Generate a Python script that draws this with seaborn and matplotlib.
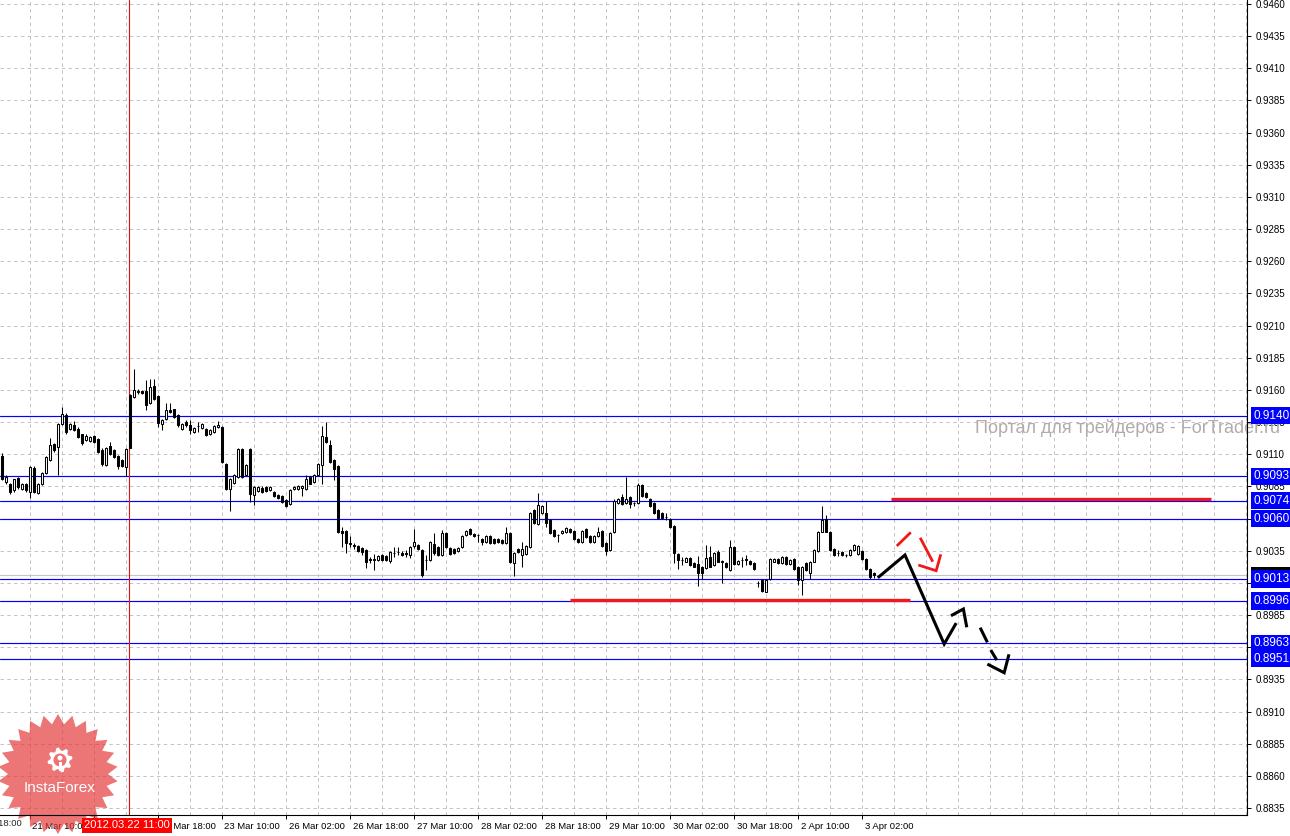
import numpy as np
import pandas as pd

import matplotlib
matplotlib.use('Agg')

import matplotlib.pyplot as plt
import matplotlib.patches as mpatches
import matplotlib.transforms as mtransforms
import seaborn as sns


# =========================================================
# DATA  (H1 candles, one bar every hour)
# =========================================================

opens = [
    0.91087, 0.90885, 0.90872, 0.9082, 0.90918, 0.90833, 0.90867, 0.90807, 0.90996, 0.90802,
    0.90872, 0.90955, 0.91058, 0.91177, 0.91157, 0.91338, 0.91403, 0.91299, 0.9133, 0.91299,
    0.91255, 0.91208, 0.91203, 0.9124, 0.91216, 0.91136, 0.91014, 0.91162, 0.9113, 0.91087,
    0.91053, 0.91001, 0.91558, 0.91545, 0.91584, 0.91589, 0.91592, 0.91498, 0.91628, 0.9155,
    0.91338, 0.91377, 0.91442, 0.91449, 0.91403, 0.91294, 0.91351, 0.9133, 0.91273, 0.91322,
    0.91307, 0.91299, 0.9126, 0.91273, 0.91312, 0.91312, 0.91027, 0.90833, 0.90877, 0.90924,
    0.91144, 0.90936, 0.91144, 0.90781, 0.90815, 0.90841, 0.90846, 0.9082, 0.90807, 0.90786,
    0.90773, 0.90742, 0.90711, 0.9083, 0.9083, 0.90841, 0.90833, 0.90924, 0.90885, 0.90936,
    0.91014, 0.91234, 0.9117, 0.91058, 0.91006, 0.90503, 0.90503, 0.90408, 0.90395, 0.90387,
    0.90369, 0.90356, 0.90285, 0.90277, 0.90278, 0.90317, 0.90309, 0.90273, 0.90333, 0.90342,
    0.90335, 0.9033, 0.90317, 0.90387, 0.90395, 0.90356, 0.90278, 0.90278, 0.90402, 0.90376,
    0.90317, 0.9049, 0.90369, 0.90361, 0.90351, 0.90376, 0.9047, 0.90516, 0.9048, 0.90473,
    0.90439, 0.9042, 0.90464, 0.90439, 0.90439, 0.90433, 0.90408, 0.9049, 0.90252, 0.90361,
    0.90317, 0.90325, 0.90376, 0.90667, 0.90558, 0.90641, 0.90646, 0.90589, 0.90511, 0.90473,
    0.9049, 0.90498, 0.90516, 0.90506, 0.90439, 0.9042, 0.90516, 0.90464, 0.9042, 0.90464,
    0.90506, 0.90408, 0.90356, 0.90494, 0.90719, 0.90766, 0.90719, 0.90766, 0.9072, 0.90719,
    0.90861, 0.90802, 0.9075, 0.90719, 0.90667, 0.90641, 0.90611, 0.90595, 0.90543, 0.90325,
    0.90281, 0.90266, 0.90292, 0.90258, 0.90248, 0.90222, 0.90214, 0.90299, 0.9024, 0.90343,
    0.90267, 0.90258, 0.90201, 0.90377, 0.90248, 0.90279, 0.90284, 0.90274, 0.90253, 0.90103,
    0.90123, 0.90033, 0.90128, 0.90266, 0.90284, 0.90253, 0.90299, 0.90248, 0.90284, 0.90222,
    0.90123, 0.90253, 0.9018, 0.90266, 0.90351, 0.90499, 0.90595, 0.90499, 0.90362, 0.90331,
    0.90343, 0.90318, 0.90318, 0.90356, 0.90325, 0.90349, 0.90284, 0.90206, 0.90175,
]

highs = [
    0.9111, 0.90936, 0.9088, 0.9091, 0.90925, 0.9088, 0.9088, 0.9101, 0.9101, 0.90875,
    0.90965, 0.91085, 0.91229, 0.91185, 0.91345, 0.91467, 0.9142, 0.91345, 0.9136, 0.9131,
    0.9126, 0.91255, 0.91245, 0.91253, 0.91225, 0.91145, 0.9116, 0.91195, 0.9114, 0.91095,
    0.91063, 0.9115, 0.9157, 0.9176, 0.91605, 0.916, 0.91675, 0.91688, 0.91688, 0.9156,
    0.91375, 0.91501, 0.91501, 0.91455, 0.91415, 0.91345, 0.9137, 0.91369, 0.91315, 0.91351,
    0.91345, 0.91307, 0.91298, 0.91327, 0.91355, 0.9132, 0.91035, 0.90918, 0.90945, 0.9115,
    0.9115, 0.91026, 0.9115, 0.90853, 0.90855, 0.9085, 0.90855, 0.90853, 0.90815, 0.90793,
    0.9078, 0.9075, 0.90827, 0.90853, 0.90858, 0.90858, 0.90942, 0.9093, 0.90943, 0.9103,
    0.91317, 0.91351, 0.91208, 0.91065, 0.91015, 0.90537, 0.9051, 0.90464, 0.90408, 0.90395,
    0.90376, 0.90363, 0.90299, 0.90325, 0.90316, 0.90324, 0.90316, 0.9035, 0.90376, 0.90376,
    0.90345, 0.90356, 0.9039, 0.90516, 0.90403, 0.90363, 0.90317, 0.90428, 0.9049, 0.90384,
    0.90511, 0.90498, 0.90382, 0.90368, 0.90376, 0.90471, 0.90513, 0.90523, 0.90487, 0.9048,
    0.90446, 0.90471, 0.90471, 0.90446, 0.90446, 0.9044, 0.90537, 0.90498, 0.90337, 0.90368,
    0.9042, 0.90394, 0.90653, 0.90674, 0.90801, 0.90705, 0.90739, 0.90596, 0.90518, 0.9048,
    0.90513, 0.90531, 0.90523, 0.90513, 0.90446, 0.90513, 0.90523, 0.90471, 0.90471, 0.90537,
    0.90513, 0.90415, 0.90497, 0.9075, 0.90757, 0.90792, 0.90921, 0.90773, 0.90732, 0.9088,
    0.90868, 0.90809, 0.90757, 0.90726, 0.90674, 0.90648, 0.90641, 0.90602, 0.9055, 0.90332,
    0.90299, 0.90299, 0.90299, 0.90265, 0.9031, 0.90229, 0.90395, 0.90387, 0.90343, 0.90356,
    0.90279, 0.90265, 0.90434, 0.90384, 0.90281, 0.90305, 0.90318, 0.90281, 0.9026, 0.90118,
    0.9013, 0.9013, 0.90291, 0.90291, 0.90291, 0.90306, 0.90306, 0.90286, 0.90291, 0.90229,
    0.90234, 0.9026, 0.90273, 0.90363, 0.90506, 0.90698, 0.90628, 0.90506, 0.90369, 0.90356,
    0.9035, 0.90325, 0.90363, 0.90402, 0.90394, 0.90356, 0.90291, 0.90213, 0.90182,
]

lows = [
    0.909, 0.90867, 0.90794, 0.9081, 0.9083, 0.9082, 0.9081, 0.9076, 0.908, 0.90795,
    0.9086, 0.9095, 0.9105, 0.9112, 0.90936, 0.9133, 0.9126, 0.9129, 0.9128, 0.91225,
    0.91175, 0.912, 0.91195, 0.91188, 0.9111, 0.9101, 0.91005, 0.91095, 0.9107, 0.90983,
    0.91, 0.90929, 0.91145, 0.9154, 0.9157, 0.9157, 0.91447, 0.9149, 0.91525, 0.91312,
    0.91286, 0.9137, 0.9142, 0.9138, 0.91315, 0.91285, 0.91315, 0.9126, 0.91265, 0.91273,
    0.913, 0.91239, 0.9125, 0.91265, 0.91305, 0.9103, 0.90825, 0.90659, 0.9087, 0.90915,
    0.90915, 0.9093, 0.90729, 0.90709, 0.9081, 0.908, 0.90808, 0.90815, 0.90766, 0.90756,
    0.9072, 0.9069, 0.90704, 0.90824, 0.90824, 0.90773, 0.90826, 0.90865, 0.9088, 0.9093,
    0.90867, 0.91188, 0.9103, 0.909, 0.9049, 0.90382, 0.9033, 0.90376, 0.90361, 0.90343,
    0.90317, 0.90213, 0.90252, 0.902, 0.9027, 0.9027, 0.9027, 0.90252, 0.90304, 0.90317,
    0.9031, 0.90299, 0.90291, 0.90369, 0.90354, 0.90149, 0.902, 0.9027, 0.90317, 0.9031,
    0.9031, 0.90369, 0.90317, 0.90328, 0.90344, 0.90369, 0.90463, 0.90473, 0.90457, 0.9042,
    0.90395, 0.90413, 0.904, 0.904, 0.90413, 0.904, 0.904, 0.90258, 0.90154, 0.90336,
    0.90226, 0.90318, 0.90369, 0.90556, 0.90551, 0.90634, 0.90537, 0.90478, 0.90457, 0.9042,
    0.90483, 0.90491, 0.90491, 0.90432, 0.90413, 0.90413, 0.90447, 0.90413, 0.90413, 0.90457,
    0.9038, 0.90317, 0.90349, 0.90487, 0.90712, 0.90707, 0.90712, 0.9068, 0.90698, 0.90712,
    0.90769, 0.90759, 0.90691, 0.90639, 0.90595, 0.90595, 0.9059, 0.90526, 0.90253, 0.90206,
    0.9024, 0.90259, 0.90233, 0.9022, 0.90077, 0.90128, 0.90207, 0.9022, 0.90233, 0.90259,
    0.90097, 0.90215, 0.90194, 0.90241, 0.90241, 0.90227, 0.9024, 0.90241, 0.90199, 0.90071,
    0.90033, 0.90026, 0.90121, 0.90259, 0.90246, 0.90246, 0.90241, 0.90241, 0.90199, 0.90084,
    0.90007, 0.90194, 0.90128, 0.90259, 0.90344, 0.90492, 0.90492, 0.90349, 0.90311, 0.9031,
    0.90311, 0.90299, 0.90311, 0.90349, 0.90318, 0.90277, 0.90199, 0.90128, 0.90142,
]

closes = [
    0.90911, 0.90924, 0.90807, 0.90905, 0.90846, 0.90872, 0.9082, 0.91001, 0.90807, 0.90867,
    0.90955, 0.91079, 0.9117, 0.91136, 0.91338, 0.91416, 0.91273, 0.91338, 0.91286, 0.91234,
    0.91188, 0.9124, 0.91234, 0.91195, 0.91118, 0.91022, 0.91151, 0.91105, 0.91079, 0.91006,
    0.91006, 0.91144, 0.91151, 0.91602, 0.91589, 0.91579, 0.9148, 0.91623, 0.91532, 0.91343,
    0.91369, 0.91442, 0.91429, 0.9139, 0.91325, 0.91333, 0.91325, 0.91286, 0.91304, 0.91318,
    0.91338, 0.91247, 0.91291, 0.9132, 0.91325, 0.9104, 0.90833, 0.90911, 0.90936, 0.91144,
    0.90924, 0.91019, 0.90794, 0.90846, 0.90846, 0.90807, 0.90815, 0.90846, 0.90773, 0.90763,
    0.90729, 0.90698, 0.9082, 0.90846, 0.90851, 0.90851, 0.90911, 0.90872, 0.90936, 0.91022,
    0.91239, 0.91195, 0.9104, 0.90988, 0.90498, 0.9049, 0.90413, 0.90405, 0.90387, 0.90351,
    0.90343, 0.90265, 0.90282, 0.90285, 0.90309, 0.90278, 0.90278, 0.90343, 0.90335, 0.90343,
    0.90317, 0.90328, 0.90382, 0.9042, 0.90361, 0.90161, 0.90275, 0.9042, 0.9033, 0.90317,
    0.9049, 0.90376, 0.90325, 0.90335, 0.90369, 0.90464, 0.90506, 0.9048, 0.90464, 0.90471,
    0.9042, 0.90464, 0.90408, 0.90408, 0.9042, 0.90408, 0.9049, 0.90265, 0.9033, 0.90343,
    0.90361, 0.90387, 0.90646, 0.90563, 0.90705, 0.90698, 0.90568, 0.90485, 0.90464, 0.90472,
    0.90506, 0.90524, 0.90498, 0.90439, 0.9042, 0.90506, 0.90454, 0.9042, 0.90464, 0.90498,
    0.90387, 0.90351, 0.9049, 0.9074, 0.9075, 0.90714, 0.9075, 0.90714, 0.90718, 0.90861,
    0.90776, 0.90766, 0.90698, 0.90646, 0.90602, 0.90602, 0.90609, 0.90533, 0.9033, 0.90279,
    0.90279, 0.90292, 0.9024, 0.90227, 0.90175, 0.90175, 0.90292, 0.90227, 0.90336, 0.90266,
    0.90265, 0.90222, 0.90382, 0.90248, 0.90274, 0.90277, 0.90282, 0.90248, 0.90206, 0.90101,
    0.9004, 0.90123, 0.90284, 0.90284, 0.90253, 0.90299, 0.90248, 0.90279, 0.90206, 0.90123,
    0.90227, 0.90201, 0.90266, 0.90356, 0.90499, 0.90589, 0.90499, 0.90356, 0.90318, 0.9033,
    0.90318, 0.90317, 0.90356, 0.90395, 0.90387, 0.90284, 0.90206, 0.90149, 0.9016,
]

# time axis: one label every 16 bars
time_tick_bars = [-9, 7, 23, 39, 55, 71, 87, 103, 119, 135, 151, 167, 183, 199, 215]
time_tick_labels = [
    "20 Mar 18:00", "21 Mar 10:00", "22 Mar 02:00", "22 Mar 18:00",
    "23 Mar 10:00", "26 Mar 02:00", "26 Mar 18:00", "27 Mar 10:00",
    "28 Mar 02:00", "28 Mar 18:00", "29 Mar 10:00", "30 Mar 02:00",
    "30 Mar 18:00", "2 Apr 10:00", "3 Apr 02:00",
]

price_ticks = [
    0.8835, 0.8860, 0.8885, 0.8910, 0.8935, 0.8960, 0.8985, 0.9010,
    0.9035, 0.9060, 0.9085, 0.9110, 0.9135, 0.9160, 0.9185, 0.9210,
    0.9235, 0.9260, 0.9285, 0.9310, 0.9335, 0.9360, 0.9385, 0.9410,
    0.9435, 0.9460,
]

# support / resistance levels
levels = [0.9140, 0.9093, 0.9074, 0.9060, 0.9013, 0.8996, 0.8963, 0.8951]
bid_price = 0.9016

# crosshair
cross_bar = 31.8
cross_label = "2012.03.22 11:00"

# red zones (bar_start, bar_end, price)
red_upper = (222.3, 302.3, 0.9075)
red_lower = (142.1, 227.1, 0.8997)

# forecast sketch (bar, price)
black_path = [(219.0, 0.90140), (225.8, 0.90317), (235.6, 0.89625), (238.6, 0.89788)]
black_head_up = [(237.3, 0.89845), (240.4, 0.89897), (241.25, 0.89755)]
black_dash_1 = [(244.6, 0.89752), (246.4, 0.89638)]
black_dash_2 = [(247.25, 0.89578), (248.75, 0.89500)]
black_head_down = [(246.4, 0.89469), (250.6, 0.89402), (251.8, 0.89545)]

red_dash_up = [(223.75, 0.90387), (227.25, 0.90493)]
red_down = [(229.6, 0.90451), (232.75, 0.90265)]
red_head_down = [(229.15, 0.90239), (233.6, 0.90195), (234.75, 0.90322)]

watermark = "Портал для трейдеров - ForTrader.ru"
logo_text = "InstaForex"


# =========================================================
# FRAME
# =========================================================

df = pd.DataFrame({
    'open': opens,
    'high': highs,
    'low': lows,
    'close': closes,
})
df['bar'] = np.arange(len(df))

sns.set_theme(style="white")
plt.rcParams['font.family'] = ['Liberation Sans', 'DejaVu Sans']

W, H = 1290, 836
fig = plt.figure(figsize=(W / 100, H / 100), dpi=100)
fig.patch.set_facecolor('white')

# plot area in pixels: x 0..1247, y 0..815
ax = fig.add_axes([0, 21 / H, 1247 / W, 815 / H])
ax.set_facecolor('white')

ax.set_xlim(-0.425, 311.3)
ax.set_ylim(0.88296, 0.94631)


def px(x, y):
    # pixel (top-left origin) -> figure fraction
    return (x / W, 1 - y / H)


# =========================================================
# GRID
# =========================================================

grid_col = '#c6bec8'

for p in price_ticks:
    ax.axhline(p, color=grid_col, lw=0.7, ls=(0, (3.5, 3.5)), zorder=0.5)

for b in range(7, 312, 8):
    ax.axvline(b, color=grid_col, lw=0.7, ls=(0, (3.5, 3.5)), zorder=0.5)


# =========================================================
# WATERMARKS
# =========================================================

ax.text(
    975 / 1247, 1 - 428 / 815,
    watermark,
    transform=ax.transAxes,
    fontsize=13,
    color='#b3abab',
    ha='left', va='center',
    zorder=1, clip_on=False
)

# InstaForex starburst
n_spikes = 26
ang = np.linspace(0, 2 * np.pi, 2 * n_spikes, endpoint=False) + np.pi / 2
rad = np.where(np.arange(2 * n_spikes) % 2 == 0, 60, 50)
star = [px(58 + r * np.cos(a), 774 - r * np.sin(a)) for r, a in zip(rad, ang)]
ax.add_patch(mpatches.Polygon(
    star, closed=True, transform=fig.transFigure,
    facecolor='#e43a3a', edgecolor='none', alpha=0.7,
    zorder=1, clip_on=False
))

# gear icon
n_teeth = 8
g_ang = np.linspace(0, 2 * np.pi, 4 * n_teeth, endpoint=False)
g_rad = np.array([12.5, 12.5, 9.5, 9.5] * n_teeth)
gear = [px(60 + r * np.cos(a + 0.1), 760 - r * np.sin(a + 0.1)) for r, a in zip(g_rad, g_ang)]
ax.add_patch(mpatches.Polygon(
    gear, closed=True, transform=fig.transFigure,
    facecolor='white', edgecolor='none', zorder=1.2, clip_on=False
))
ax.add_patch(mpatches.Ellipse(
    px(60, 760), 13 / W, 13 / H, transform=fig.transFigure,
    facecolor='#ee7272', edgecolor='none', zorder=1.3, clip_on=False
))
ax.add_patch(mpatches.Rectangle(
    px(58.5, 771), 3 / W, 9 / H, transform=fig.transFigure,
    facecolor='white', edgecolor='none', zorder=1.4, clip_on=False
))
ax.add_patch(mpatches.Ellipse(
    px(60, 758), 5 / W, 5 / H, transform=fig.transFigure,
    facecolor='white', edgecolor='none', zorder=1.4, clip_on=False
))

ax.text(
    *px(60, 788), logo_text,
    transform=fig.transFigure,
    fontsize=11, color='white',
    ha='center', va='center',
    zorder=1.5, clip_on=False
)


# =========================================================
# LEVEL LINES
# =========================================================

for lv in levels:
    ax.axhline(lv, color='#0000ff', lw=0.85, zorder=2)

ax.axhline(bid_price, color='#c4c4c4', lw=0.8, zorder=1.8)

ax.axvline(cross_bar, color='#e01010', lw=0.8, zorder=2.2)

for b0, b1, p in (red_upper, red_lower):
    ax.hlines(p, b0, b1, color='#ee1a1a', lw=2.4, zorder=3)


# =========================================================
# CANDLES
# =========================================================

up = df['close'] >= df['open']
body_lo = np.minimum(df['open'], df['close'])
body_h = np.maximum((df['close'] - df['open']).abs(), 0.000015)

ax.vlines(df['bar'], df['low'], df['high'], color='black', lw=0.75, zorder=3)

ax.bar(
    df['bar'][up], body_h[up], bottom=body_lo[up],
    width=0.55, color='white', edgecolor='black', linewidth=0.75, zorder=4
)
ax.bar(
    df['bar'][~up], body_h[~up], bottom=body_lo[~up],
    width=0.55, color='black', edgecolor='black', linewidth=0.75, zorder=4
)


# =========================================================
# FORECAST SKETCH
# =========================================================

def draw_path(pts, color, lw):
    xs, ys = zip(*pts)
    ax.plot(xs, ys, color=color, lw=lw, solid_capstyle='butt',
            solid_joinstyle='miter', zorder=5)


for pts in (black_path, black_head_up, black_dash_1, black_dash_2, black_head_down):
    draw_path(pts, 'black', 2.2)

for pts in (red_dash_up, red_down, red_head_down):
    draw_path(pts, '#ee1a1a', 2.0)


# =========================================================
# AXES / TICKS
# =========================================================

for s in ['left', 'top']:
    ax.spines[s].set_visible(False)
for s in ['right', 'bottom']:
    ax.spines[s].set_visible(True)
    ax.spines[s].set_color('black')
    ax.spines[s].set_linewidth(0.8)

ax.yaxis.tick_right()
ax.set_yticks(price_ticks)
ax.set_yticklabels([f"{p:.4f}" for p in price_ticks])
ax.tick_params(axis='y', which='major', right=True, length=3, width=0.7,
               color='black', labelsize=7, pad=3, labelcolor='black')

vis = [(b, l) for b, l in zip(time_tick_bars, time_tick_labels) if b >= 0]
ax.set_xticks([b for b, _ in vis])
ax.set_xticklabels([l for _, l in vis])
ax.tick_params(axis='x', which='major', bottom=True, length=3, width=0.7,
               color='black', labelsize=6.8, pad=2, labelcolor='black')

shift = mtransforms.ScaledTranslation(2 / 72, 0, fig.dpi_scale_trans)
for lab in ax.get_xticklabels():
    lab.set_horizontalalignment('left')
    lab.set_transform(lab.get_transform() + shift)

# label of the tick that sits left of the view
for b, l in zip(time_tick_bars, time_tick_labels):
    if b < 0:
        ax.text(b, -0.0045, l, transform=ax.get_xaxis_transform(),
                fontsize=6.8, ha='left', va='top', clip_on=False)

ax.set_xlabel('')
ax.set_ylabel('')


# =========================================================
# PRICE / DATE BOXES
# =========================================================

ax.text(
    1.0052, bid_price, f"{bid_price:.4f}",
    transform=ax.get_yaxis_transform(),
    fontsize=8, color='white', ha='left', va='center',
    bbox=dict(boxstyle='square,pad=0.25', fc='black', ec='none'),
    zorder=6, clip_on=False
)

for lv in levels:
    ax.text(
        1.0052, lv, f"{lv:.4f}",
        transform=ax.get_yaxis_transform(),
        fontsize=8.5, color='white', ha='left', va='center',
        bbox=dict(boxstyle='square,pad=0.22', fc='#0000ff', ec='none'),
        zorder=7, clip_on=False
    )

ax.text(
    cross_bar - 0.4, -0.0128, cross_label,
    transform=ax.get_xaxis_transform(),
    fontsize=8, color='white', ha='center', va='center',
    bbox=dict(boxstyle='square,pad=0.2', fc='#ff0000', ec='none'),
    zorder=7, clip_on=False
)

fig.savefig('out.png', dpi=100)
plt.close(fig)
